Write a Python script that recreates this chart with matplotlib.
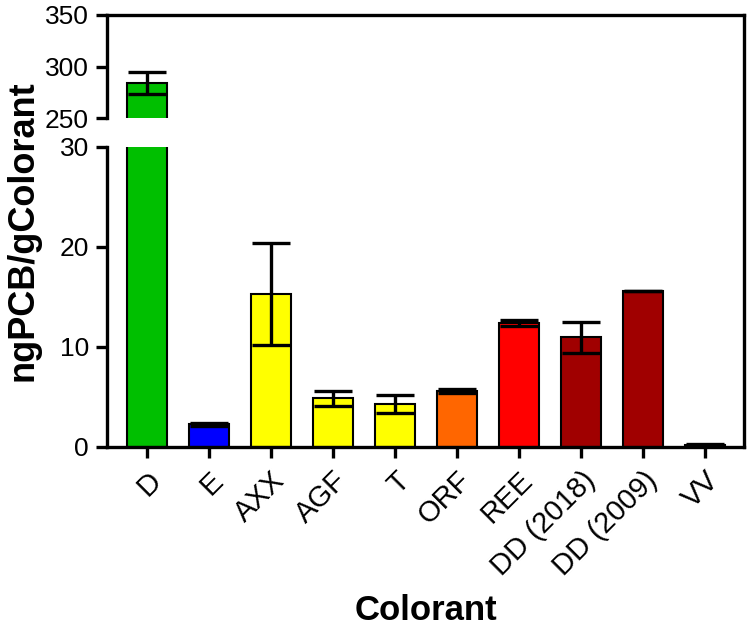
import numpy as np
import matplotlib
matplotlib.use("Agg")
import matplotlib.pyplot as plt
from matplotlib.lines import Line2D

plt.rcParams["font.family"] = ["Liberation Sans", "DejaVu Sans"]

categories = ["D", "E", "AXX", "AGF", "T", "ORF", "REE", "DD (2018)", "DD (2009)", "VV"]
values = [284, 2.3, 15.3, 4.9, 4.3, 5.65, 12.4, 11.0, 15.6, 0.2]
errors = [11, 0.15, 5.1, 0.75, 0.9, 0.2, 0.3, 1.55, 0, 0.1]
colors = ["#00bf00", "#0000ff", "#ffff00", "#ffff00", "#ffff00",
          "#ff6600", "#ff0000", "#a00000", "#a00000", "#000000"]

fig = plt.figure(figsize=(7.5, 6.33), dpi=100)
left, right = 107 / 750, 744 / 750
ax_top = fig.add_axes([left, 1 - 118 / 633, right - left, 103 / 633])
ax_bot = fig.add_axes([left, 1 - 447 / 633, right - left, 300 / 633])

x = np.arange(len(categories))
lw = 2.4
for ax in (ax_top, ax_bot):
    ax.bar(x, values, width=0.64, color=colors, edgecolor="black", linewidth=1.5, zorder=2)
    ax.errorbar(x, values, yerr=errors, fmt="none", ecolor="black", elinewidth=2.4,
                capsize=14, capthick=2.4, zorder=3)
    ax.set_xlim(-0.645, 9.63)
    ax.spines["right"].set_visible(False)
    ax.spines["left"].set_linewidth(lw)
    ax.tick_params(axis="y", direction="out", length=8, width=lw, labelsize=19, pad=5)

ax_top.set_ylim(250, 350)
ax_top.set_yticks([250, 300, 350])
ax_top.spines["bottom"].set_visible(False)
ax_top.spines["top"].set_linewidth(lw)
ax_top.tick_params(axis="x", bottom=False, labelbottom=False)

ax_bot.set_ylim(0, 30)
ax_bot.set_yticks([0, 10, 20, 30])
ax_bot.spines["top"].set_visible(False)
ax_bot.spines["bottom"].set_linewidth(lw)
ax_bot.set_xticks(x)
ax_bot.set_xticklabels(categories, rotation=45, ha="right", rotation_mode="anchor")
ax_bot.tick_params(axis="x", direction="out", length=8, width=lw, labelsize=21, pad=6)
ax_bot.set_xlabel("Colorant", fontsize=25, fontweight="bold", labelpad=9)

# continuous right frame line across the break
fig.add_artist(Line2D([right, right], [1 - 447 / 633, 1 - 15 / 633],
                      transform=fig.transFigure, color="black", linewidth=lw,
                      solid_capstyle="projecting"))

fig.text(0.031, 1 - 231 / 633, "ngPCB/gColorant", rotation=90, fontsize=26,
         fontweight="bold", ha="center", va="center")

fig.savefig("out.png", dpi=100)
